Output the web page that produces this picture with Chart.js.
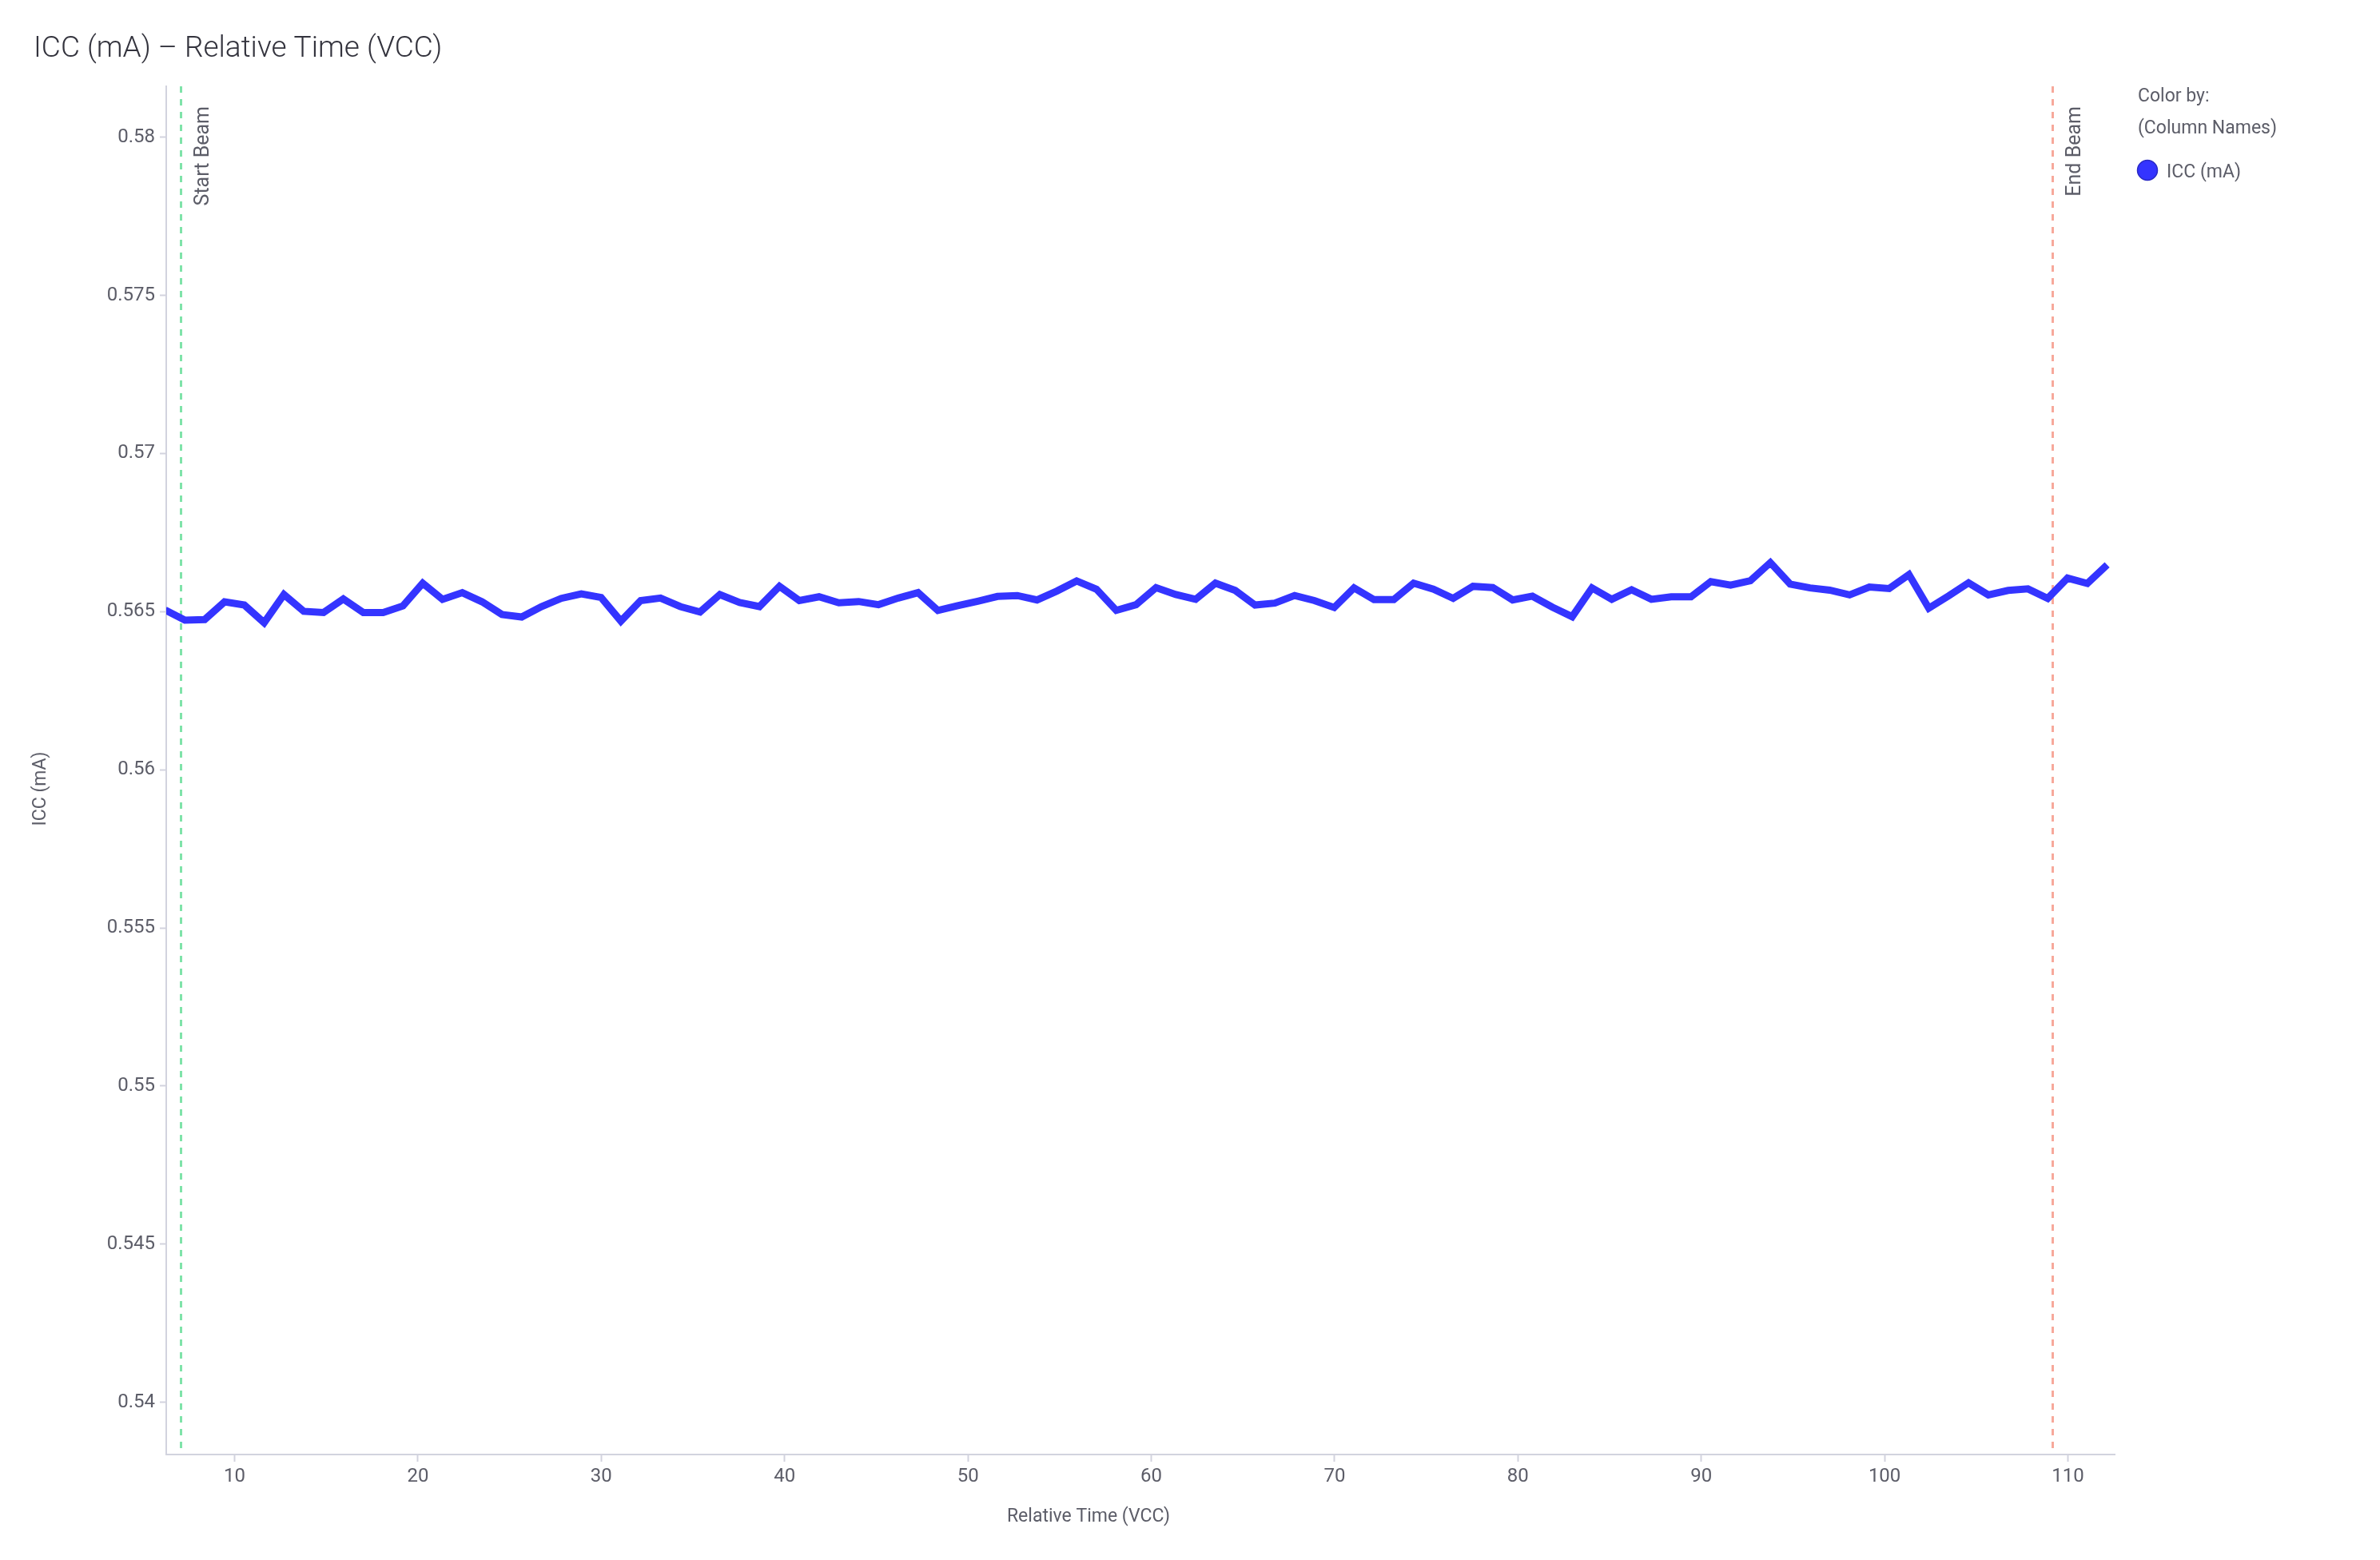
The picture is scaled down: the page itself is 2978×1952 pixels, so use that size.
<!DOCTYPE html>
<html lang="en">
<head>
<meta charset="UTF-8">
<title>ICC (mA) – Relative Time (VCC)</title>
<script src="https://cdn.jsdelivr.net/npm/chart.js"></script>
<style>
    body { margin: 0; background: #ffffff; }
    #wrap { width: 2978px; height: 1952px; }
</style>
</head>
<body>
<div id="wrap"><canvas id="iccChart" width="2978" height="1952"></canvas></div>
<script>
    // relative time (VCC) of each sample
    const relTime = [
        6.21, 7.29, 8.37, 9.45, 10.53, 11.61, 12.69, 13.77, 14.85, 15.93,
        17.02, 18.10, 19.18, 20.26, 21.34, 22.42, 23.50, 24.58, 25.66, 26.74,
        27.82, 28.91, 29.99, 31.07, 32.15, 33.23, 34.31, 35.39, 36.47, 37.55,
        38.63, 39.72, 40.80, 41.88, 42.96, 44.04, 45.12, 46.20, 47.28, 48.36,
        49.44, 50.53, 51.61, 52.69, 53.77, 54.85, 55.93, 57.01, 58.09, 59.17,
        60.26, 61.34, 62.42, 63.50, 64.58, 65.66, 66.74, 67.82, 68.90, 69.98,
        71.06, 72.15, 73.23, 74.31, 75.39, 76.47, 77.55, 78.63, 79.71, 80.79,
        81.88, 82.96, 84.04, 85.12, 86.20, 87.28, 88.36, 89.44, 90.52, 91.60,
        92.68, 93.77, 94.85, 95.93, 97.01, 98.09, 99.17, 100.25, 101.33, 102.41,
        103.50, 104.58, 105.66, 106.74, 107.82, 108.90, 109.98, 111.06, 112.14
    ];

    // ICC (mA)
    const iccValues = [
        0.56505, 0.56473, 0.56475, 0.56531, 0.56521, 0.56465, 0.56554, 0.56501, 0.56497, 0.56540,
        0.56497, 0.56497, 0.56518, 0.56590, 0.56539, 0.56560, 0.56531, 0.56491, 0.56483, 0.56516,
        0.56542, 0.56556, 0.56545, 0.56470, 0.56535, 0.56543, 0.56516, 0.56499, 0.56554, 0.56529,
        0.56516, 0.56580, 0.56535, 0.56547, 0.56528, 0.56532, 0.56522, 0.56543, 0.56560, 0.56504,
        0.56519, 0.56533, 0.56548, 0.56551, 0.56537, 0.56565, 0.56597, 0.56571, 0.56504, 0.56522,
        0.56576, 0.56554, 0.56539, 0.56590, 0.56567, 0.56521, 0.56527, 0.56551, 0.56535, 0.56513,
        0.56575, 0.56538, 0.56538, 0.56590, 0.56571, 0.56542, 0.56580, 0.56576, 0.56537, 0.56549,
        0.56514, 0.56484, 0.56575, 0.56539, 0.56569, 0.56539, 0.56547, 0.56547, 0.56595, 0.56584,
        0.56598, 0.56655, 0.56587, 0.56575, 0.56568, 0.56553, 0.56578, 0.56573, 0.56617, 0.56511,
        0.56550, 0.56591, 0.56553, 0.56567, 0.56572, 0.56542, 0.56606, 0.56589, 0.56648
    ];

    const xTickValues = [10, 20, 30, 40, 50, 60, 70, 80, 90, 100, 110];
    const yTickValues = [0.54, 0.545, 0.55, 0.555, 0.56, 0.565, 0.57, 0.575, 0.58];

    const beamTimes = [7.06, 109.13];
    const beamLabels = ['Start Beam', 'End Beam'];
    const beamColors = ['#7fe3a9', '#f7a99b'];

    const lineColor = '#3434ff';
    const axisColor = '#d2d3de';
    const textColor = '#5c5d68';

    const decor = {
        id: 'decor',
        beforeDatasetsDraw(chart) {
            const { ctx, chartArea: a, scales: { x } } = chart;
            beamTimes.forEach((t, i) => {
                const px = Math.round(x.getPixelForValue(t)) + 0.5;
                ctx.save();
                ctx.strokeStyle = beamColors[i];
                ctx.lineWidth = 3;
                ctx.setLineDash([8, 8]);
                ctx.beginPath();
                ctx.moveTo(px, a.top);
                ctx.lineTo(px, a.bottom - 4);
                ctx.stroke();
                ctx.restore();

                ctx.save();
                ctx.translate(px + 28, a.top + 25);
                ctx.rotate(-Math.PI / 2);
                ctx.font = '25px Roboto';
                ctx.fillStyle = textColor;
                ctx.textAlign = 'right';
                ctx.textBaseline = 'middle';
                ctx.fillText(beamLabels[i], 0, 0);
                ctx.restore();
            });
        },
        afterDraw(chart) {
            const ctx = chart.ctx;
            ctx.save();
            // title
            ctx.font = '300 37px Roboto';
            ctx.fillStyle = '#33333d';
            ctx.textAlign = 'left';
            ctx.textBaseline = 'alphabetic';
            ctx.fillText('ICC (mA) \u2013 Relative Time (VCC)', 42, 71);

            // axis titles
            ctx.font = '23px Roboto';
            ctx.fillStyle = textColor;
            ctx.textAlign = 'center';
            ctx.textBaseline = 'middle';
            ctx.fillText('Relative Time (VCC)', 1362, 1898);
            ctx.save();
            ctx.translate(51, 987);
            ctx.rotate(-Math.PI / 2);
            ctx.fillText('ICC (mA)', 0, 0);
            ctx.restore();

            // legend
            ctx.textAlign = 'left';
            ctx.textBaseline = 'alphabetic';
            ctx.fillText('Color by:', 2675, 127);
            ctx.fillText('(Column Names)', 2675, 167);
            ctx.beginPath();
            ctx.arc(2687, 213, 12.5, 0, Math.PI * 2);
            ctx.fillStyle = lineColor;
            ctx.fill();
            ctx.lineWidth = 1.5;
            ctx.strokeStyle = '#2a2ac4';
            ctx.stroke();
            ctx.fillStyle = textColor;
            ctx.fillText('ICC (mA)', 2711, 222);
            ctx.restore();
        }
    };

    const iccChart = new Chart(document.getElementById('iccChart'), {
        type: 'line',
        data: {
            datasets: [{
                label: 'ICC (mA)',
                data: relTime.map((t, i) => ({ x: t, y: iccValues[i] })),
                borderColor: lineColor,
                backgroundColor: lineColor,
                borderWidth: 9,
                borderJoinStyle: 'miter',
                pointRadius: 0,
                tension: 0,
                clip: 0
            }]
        },
        options: {
            responsive: false,
            animation: false,
            devicePixelRatio: 1,
            layout: { padding: { left: 0, top: 108, right: 332, bottom: 0 } },
            plugins: {
                legend: { display: false },
                title: { display: false },
                tooltip: { enabled: false }
            },
            scales: {
                x: {
                    type: 'linear',
                    min: 6.27,
                    max: 112.55,
                    afterFit: s => { s.height = 132; },
                    afterBuildTicks: s => { s.ticks = xTickValues.map(v => ({ value: v })); },
                    grid: { drawOnChartArea: false, color: axisColor, tickLength: 9, tickWidth: 2 },
                    border: { color: axisColor, width: 2 },
                    ticks: {
                        color: textColor,
                        font: { family: 'Roboto', size: 24 },
                        padding: 5,
                        maxRotation: 0,
                        callback: v => String(v)
                    }
                },
                y: {
                    min: 0.53835,
                    max: 0.58161,
                    afterFit: s => { s.width = 208; },
                    afterBuildTicks: s => { s.ticks = yTickValues.map(v => ({ value: v })); },
                    grid: { drawOnChartArea: false, color: axisColor, tickLength: 8, tickWidth: 2 },
                    border: { color: axisColor, width: 2 },
                    ticks: {
                        color: textColor,
                        font: { family: 'Roboto', size: 24 },
                        padding: 6,
                        callback: v => String(Number(v.toFixed(3)))
                    }
                }
            }
        },
        plugins: [decor]
    });
</script>
</body>
</html>
